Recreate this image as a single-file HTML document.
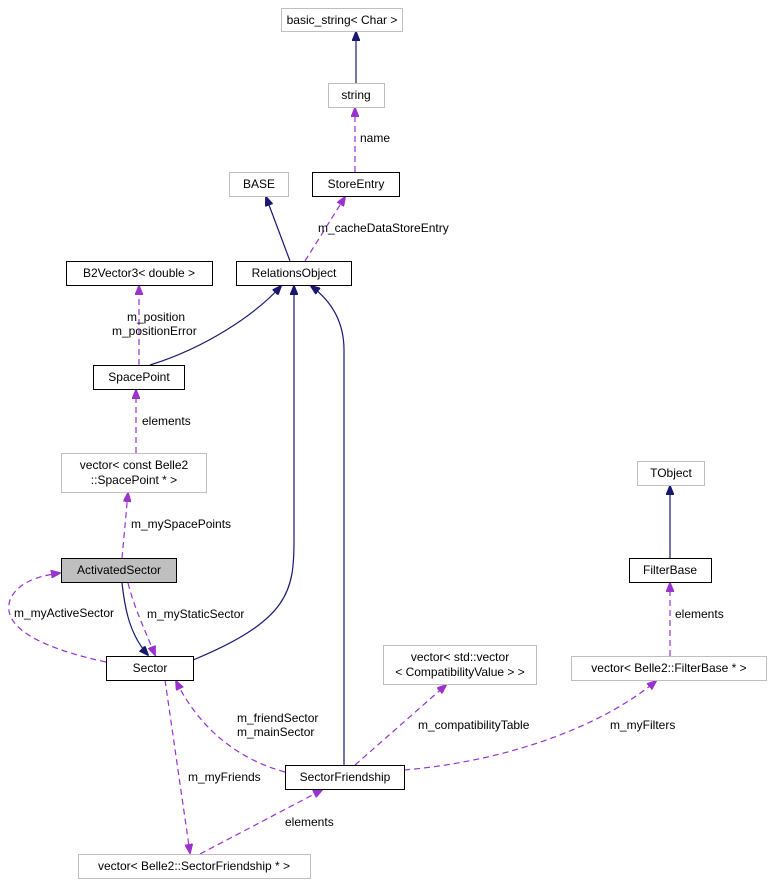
<!DOCTYPE html>
<html><head><meta charset="utf-8"><style>
html,body{margin:0;padding:0;background:#fff;}
svg text{font-family:"Liberation Sans",sans-serif;font-size:12px;fill:#000;}
</style></head><body>
<svg width="773" height="887" viewBox="0 0 773 887" xmlns="http://www.w3.org/2000/svg">
<defs>
<marker id="n" markerWidth="10" markerHeight="8" refX="9" refY="4" orient="auto" markerUnits="userSpaceOnUse"><path d="M0,0 L10,4 L0,8 z" fill="#191970" stroke="#191970"/></marker>
<marker id="p" markerWidth="10" markerHeight="8" refX="9" refY="4" orient="auto" markerUnits="userSpaceOnUse"><path d="M0,0 L10,4 L0,8 z" fill="#9a32cd" stroke="#9a32cd"/></marker>
</defs>
<g fill="none" stroke="#191970" stroke-width="1.2" marker-end="url(#n)">
<path d="M356,83 L356,32"/>
<path d="M290,261 L266,197"/>
<path d="M150,365 C205,348 255,315 281,286"/>
<path d="M193,660 C290,620 294,590 294,540 L294,286"/>
<path d="M344,765 L344,350 C344,320 330,300 311,286"/>
<path d="M670,558 L670,486"/>
<path d="M122,583 C125,610 130,635 148,655"/>
</g>
<g fill="none" stroke="#9a32cd" stroke-width="1.2" stroke-dasharray="6,4" marker-end="url(#p)">
<path d="M355,172 L355,108"/>
<path d="M305,261 L345,197"/>
<path d="M139,365 L139,286"/>
<path d="M136,453 L136,390"/>
<path d="M122,558 L128,493"/>
<path d="M128,583 C135,610 145,630 155,655"/>
<path d="M106,662 C50,650 0,630 10,600 C18,580 45,575 60,573"/>
<path d="M285,772 C240,760 200,730 176,681"/>
<path d="M355,765 L446,685"/>
<path d="M404,770 C520,760 610,720 656,681"/>
<path d="M670,656 L670,583"/>
<path d="M165,680 L190,853"/>
<path d="M200,854 L322,790"/>
</g>
<g stroke-width="1">
<rect x="281.5" y="8.5" width="121" height="23" fill="#fff" stroke="#bfbfbf"/>
<rect x="328.5" y="83.5" width="56" height="24" fill="#fff" stroke="#bfbfbf"/>
<rect x="312.5" y="172.5" width="87" height="24" fill="#fff" stroke="#000"/>
<rect x="229.5" y="172.5" width="59" height="24" fill="#fff" stroke="#bfbfbf"/>
<rect x="236.5" y="261.5" width="115" height="24" fill="#fff" stroke="#000"/>
<rect x="66.5" y="261.5" width="146" height="24" fill="#fff" stroke="#000"/>
<rect x="93.5" y="365.5" width="91" height="24" fill="#fff" stroke="#000"/>
<rect x="61.5" y="453.5" width="145" height="39" fill="#fff" stroke="#bfbfbf"/>
<rect x="61.5" y="558.5" width="115" height="24" fill="#bfbfbf" stroke="#000"/>
<rect x="106.5" y="656.5" width="87" height="24" fill="#fff" stroke="#000"/>
<rect x="637.5" y="461.5" width="67" height="24" fill="#fff" stroke="#bfbfbf"/>
<rect x="629.5" y="558.5" width="82" height="24" fill="#fff" stroke="#000"/>
<rect x="383.5" y="645.5" width="153" height="39" fill="#fff" stroke="#bfbfbf"/>
<rect x="571.5" y="656.5" width="195" height="24" fill="#fff" stroke="#bfbfbf"/>
<rect x="285.5" y="765.5" width="119" height="24" fill="#fff" stroke="#000"/>
<rect x="78.5" y="854.5" width="232" height="24" fill="#fff" stroke="#bfbfbf"/>
</g>
<g text-anchor="middle">
<text x="342" y="24">basic_string&lt; Char &gt;</text>
<text x="356" y="99">string</text>
<text x="356" y="188">StoreEntry</text>
<text x="259" y="188">BASE</text>
<text x="294" y="277">RelationsObject</text>
<text x="139" y="277">B2Vector3&lt; double &gt;</text>
<text x="139" y="381">SpacePoint</text>
<text x="134" y="469">vector&lt; const Belle2</text>
<text x="134" y="484">::SpacePoint * &gt;</text>
<text x="119" y="574">ActivatedSector</text>
<text x="150" y="672">Sector</text>
<text x="671" y="477">TObject</text>
<text x="670" y="574">FilterBase</text>
<text x="460" y="661">vector&lt; std::vector</text>
<text x="460" y="676">&lt; CompatibilityValue &gt; &gt;</text>
<text x="669" y="672">vector&lt; Belle2::FilterBase * &gt;</text>
<text x="345" y="781">SectorFriendship</text>
<text x="194" y="870">vector&lt; Belle2::SectorFriendship * &gt;</text>
</g>
<text x="360" y="142">name</text>
<text x="318" y="232">m_cacheDataStoreEntry</text>
<text x="127" y="321">m_position</text>
<text x="112" y="335">m_positionError</text>
<text x="142" y="425">elements</text>
<text x="131" y="528">m_mySpacePoints</text>
<text x="14" y="617">m_myActiveSector</text>
<text x="147" y="618">m_myStaticSector</text>
<text x="237" y="722">m_friendSector</text>
<text x="237" y="736">m_mainSector</text>
<text x="418" y="729">m_compatibilityTable</text>
<text x="610" y="729">m_myFilters</text>
<text x="675" y="618">elements</text>
<text x="188" y="781">m_myFriends</text>
<text x="285" y="826">elements</text>
</svg>
</body></html>
